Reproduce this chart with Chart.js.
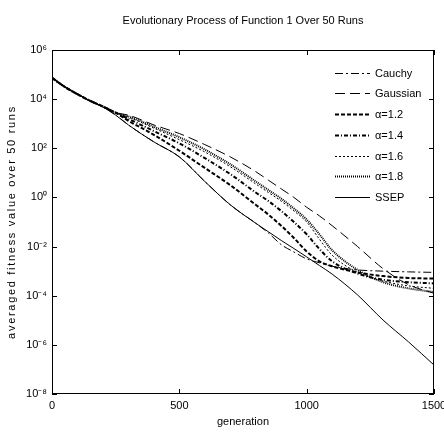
<!DOCTYPE html>
<html>
<head>
<meta charset="utf-8">
<script src="https://cdn.jsdelivr.net/npm/chart.js@4.4.1/dist/chart.umd.min.js"></script>
<style>
  html, body { margin: 0; padding: 0; background: #fff; }
  #wrap { width: 444px; height: 438px; position: relative; }
</style>
</head>
<body>
<div id="wrap"><canvas id="chart"></canvas></div>
<script>
const GENS = [0, 50, 100, 150, 200, 250, 300, 400, 500, 600, 700, 800, 850, 900, 950, 1000, 1050, 1100, 1200, 1300, 1400, 1500];

// log10 of averaged fitness value
const CAUCHY   = [4.87, 4.5, 4.2, 3.93, 3.68, 3.35, 2.95, 2.26, 1.65, 0.65, -0.3, -1.05, -1.45, -1.92, -2.22, -2.5, -2.66, -2.8, -2.95, -3.0, -3.03, -3.05];
const GAUSSIAN = [4.87, 4.5, 4.2, 3.93, 3.7, 3.45, 3.35, 2.95, 2.6, 2.15, 1.65, 1.05, 0.7, 0.35, 0.0, -0.4, -0.75, -1.15, -2.0, -2.9, -3.55, -3.9];
const ALPHA_12 = [4.87, 4.5, 4.2, 3.93, 3.7, 3.45, 3.12, 2.55, 1.9, 1.2, 0.5, -0.3, -0.7, -1.15, -1.65, -2.2, -2.6, -2.8, -3.05, -3.2, -3.28, -3.3];
const ALPHA_14 = [4.87, 4.5, 4.2, 3.93, 3.7, 3.45, 3.2, 2.7, 2.2, 1.6, 0.95, 0.2, -0.15, -0.55, -1.0, -1.5, -2.1, -2.6, -3.1, -3.35, -3.45, -3.5];
const ALPHA_16 = [4.87, 4.5, 4.2, 3.93, 3.7, 3.45, 3.27, 2.82, 2.35, 1.85, 1.25, 0.55, 0.2, -0.15, -0.55, -1.0, -1.7, -2.35, -3.05, -3.4, -3.6, -3.7];
const ALPHA_18 = [4.87, 4.5, 4.2, 3.93, 3.7, 3.45, 3.3, 2.88, 2.45, 1.95, 1.35, 0.65, 0.3, -0.05, -0.45, -0.9, -1.5, -2.15, -2.95, -3.45, -3.7, -3.85];
const SSEP     = [4.87, 4.5, 4.2, 3.93, 3.68, 3.35, 2.95, 2.26, 1.65, 0.65, -0.3, -1.05, -1.4, -1.75, -2.08, -2.42, -2.77, -3.12, -3.97, -4.99, -5.88, -6.82];

const X_TICKS = [0, 500, 1000, 1500];
const Y_EXPONENTS = [-8, -6, -4, -2, 0, 2, 4, 6];

const FONT = "'Liberation Sans', Arial, sans-serif";
const SUP = { "-": "\u207B", "0": "\u2070", "2": "\u00B2", "4": "\u2074", "6": "\u2076", "8": "\u2078" };

const toPoints = (vals) => GENS.map((g, i) => ({ x: g, y: Math.pow(10, vals[i]) }));

const line = (label, vals, dash, width) => ({
	label,
	data: toPoints(vals),
	borderColor: "#000",
	borderWidth: width,
	borderDash: dash,
	pointRadius: 0,
	fill: false,
	cubicInterpolationMode: "monotone",
});

// ----------------------------------------------
// Frame, inward ticks, titles and legend
// ----------------------------------------------
const matlabAxes = {
	id: "matlabAxes",
	afterDatasetsDraw(chart) {
		const { ctx, chartArea: a, scales } = chart;
		const len = 5;
		ctx.save();
		ctx.strokeStyle = "#000";
		ctx.lineWidth = 1;
		ctx.setLineDash([]);
		ctx.strokeRect(Math.round(a.left) + 0.5, Math.round(a.top) + 0.5, Math.round(a.width) - 1, Math.round(a.height) - 1);
		ctx.beginPath();
		scales.x.ticks.forEach((t) => {
			const px = Math.round(scales.x.getPixelForValue(t.value)) + 0.5;
			ctx.moveTo(px, a.bottom); ctx.lineTo(px, a.bottom - len);
			ctx.moveTo(px, a.top); ctx.lineTo(px, a.top + len);
		});
		scales.y.ticks.forEach((t) => {
			const py = Math.round(scales.y.getPixelForValue(t.value)) + 0.5;
			ctx.moveTo(a.left, py); ctx.lineTo(a.left + len, py);
			ctx.moveTo(a.right, py); ctx.lineTo(a.right - len, py);
		});
		ctx.stroke();

		// title
		ctx.fillStyle = "#000";
		ctx.font = "11px " + FONT;
		ctx.textAlign = "center";
		ctx.textBaseline = "middle";
		ctx.fillText("Evolutionary Process of Function 1 Over 50 Runs", (a.left + a.right) / 2, 21);

		// y axis label, spaced out like the original
		ctx.save();
		ctx.translate(12, (a.top + a.bottom) / 2);
		ctx.rotate(-Math.PI / 2);
		ctx.letterSpacing = "1.7px";
		ctx.fillText("averaged fitness value over 50 runs", 0, 0);
		ctx.restore();

		// legend
		const x0 = 335, x1 = 370, top = 72.7, step = 20.7;
		ctx.textAlign = "left";
		chart.data.datasets.forEach((ds, i) => {
			const y = Math.round(top + i * step) + 0.5;
			ctx.lineWidth = ds.borderWidth;
			ctx.setLineDash(ds.borderDash || []);
			ctx.beginPath();
			ctx.moveTo(x0, y); ctx.lineTo(x1, y);
			ctx.stroke();
			ctx.fillText(ds.label, 375, y);
		});
		ctx.restore();
	},
};

new Chart(document.getElementById("chart"), {
	type: "line",
	data: {
		datasets: [
			line("Cauchy", CAUCHY, [8, 3, 2, 3], 1),
			line("Gaussian", GAUSSIAN, [10, 5], 1),
			line("\u03B1=1.2", ALPHA_12, [4, 2], 2),
			line("\u03B1=1.4", ALPHA_14, [4, 2, 1, 2], 2),
			line("\u03B1=1.6", ALPHA_16, [2, 2], 1),
			line("\u03B1=1.8", ALPHA_18, [1, 1], 2),
			line("SSEP", SSEP, [], 1),
		],
	},
	options: {
		responsive: true,
		maintainAspectRatio: false,
		animation: false,
		layout: { padding: { top: 50, right: 10, bottom: 0, left: 0 } },
		plugins: {
			legend: { display: false },
			title: { display: false },
			tooltip: { enabled: false },
		},
		scales: {
			x: {
				type: "linear",
				min: 0,
				max: 1500,
				afterBuildTicks: (s) => { s.ticks = X_TICKS.map((v) => ({ value: v })); },
				afterFit: (s) => { s.height = 44; s.paddingLeft = 0; s.paddingRight = 0; },
				grid: { display: false, drawTicks: false },
				border: { display: false },
				ticks: { color: "#000", font: { family: FONT, size: 11 }, padding: 5, maxRotation: 0, callback: (v) => String(v) },
				title: { display: true, text: "generation", color: "#000", font: { family: FONT, size: 11 }, padding: { top: 0, bottom: 9 } },
			},
			y: {
				type: "logarithmic",
				min: 1e-8,
				max: 1e6,
				afterBuildTicks: (s) => { s.ticks = Y_EXPONENTS.map((e) => ({ value: Math.pow(10, e) })); },
				afterFit: (s) => { s.width = 52; s.paddingTop = 0; s.paddingBottom = 0; },
				grid: { display: false, drawTicks: false },
				border: { display: false },
				ticks: {
					color: "#000",
					font: { family: FONT, size: 11 },
					padding: 5,
					callback: (v) => "10" + String(Math.round(Math.log10(v))).split("").map((c) => SUP[c]).join(""),
				},
			},
		},
	},
	plugins: [matlabAxes],
});
</script>
</body>
</html>
